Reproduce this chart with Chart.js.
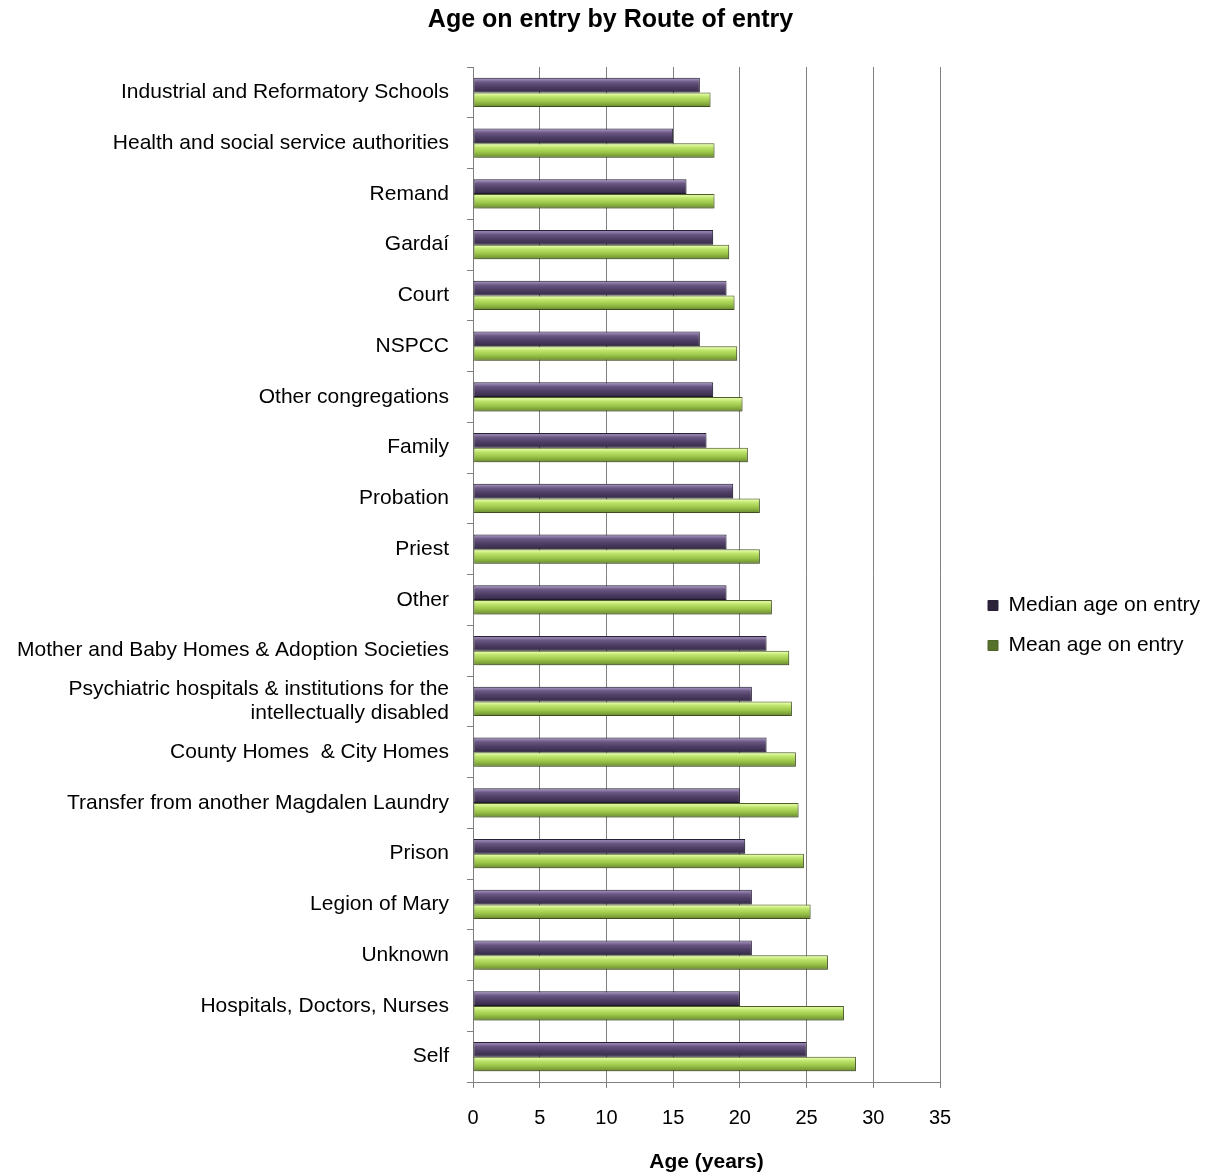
<!DOCTYPE html>
<html>
<head>
<meta charset="utf-8">
<script src="https://cdn.jsdelivr.net/npm/chart.js@4/dist/chart.umd.min.js"></script>
<style>
  html, body { margin: 0; padding: 0; background: #ffffff; }
  #wrap { width: 1221px; height: 1173px; position: relative; }
</style>
</head>
<body>
<div id="wrap"><canvas id="c" width="1221" height="1173"></canvas></div>
<script>
// ---- data ----
const categories = [
  "Industrial and Reformatory Schools",
  "Health and social service authorities",
  "Remand",
  "Gardaí",
  "Court",
  "NSPCC",
  "Other congregations",
  "Family",
  "Probation",
  "Priest",
  "Other",
  "Mother and Baby Homes & Adoption Societies",
  ["Psychiatric hospitals & institutions for the", "intellectually disabled"],
  "County Homes  & City Homes",
  "Transfer from another Magdalen Laundry",
  "Prison",
  "Legion of Mary",
  "Unknown",
  "Hospitals, Doctors, Nurses",
  "Self"
];
const medianAge = [17.0, 15.0, 16.0, 18.0, 19.0, 17.0, 18.0, 17.5, 19.5, 19.0, 19.0, 22.0, 20.9, 22.0, 20.0, 20.4, 20.9, 20.9, 20.0, 25.0];
const meanAge   = [17.8, 18.1, 18.1, 19.2, 19.6, 19.8, 20.2, 20.6, 21.5, 21.5, 22.4, 23.7, 23.9, 24.2, 24.4, 24.8, 25.3, 26.6, 27.8, 28.7];
const seriesNames = ["Median age on entry", "Mean age on entry"];
const xTicksMin = 0, xTicksMax = 35, xTickStep = 5;
const chartTitle = "Age on entry by Route of entry";
const xAxisTitle = "Age (years)";

// ---- styling ----
const CAT_PCT = 0.58;
const FONT = "'Liberation Sans', Arial, sans-serif";
const purpleStops = [[0,'#6b5a85'],[0.12,'#9685b0'],[0.3,'#6a5883'],[0.6,'#4f3f66'],[0.88,'#3d3050'],[1,'#2b2139']];
const greenStops  = [[0,'#a9cc5c'],[0.12,'#e0f8a0'],[0.3,'#bde46a'],[0.6,'#9cc74a'],[0.88,'#789b36'],[1,'#56722a']];

function barGradient(stops, dsIndex, fallback) {
  return (ctx) => {
    const chart = ctx.chart;
    const y = chart.scales && chart.scales.y;
    if (ctx.type !== 'data' || !chart.chartArea || !y) return fallback;
    const center = y.getPixelForValue(ctx.dataIndex);
    const band = y.height / categories.length;
    const barH = band * CAT_PCT / 2;
    const top = center - band * CAT_PCT / 2 + dsIndex * barH;
    const g = chart.ctx.createLinearGradient(0, top, 0, top + barH);
    stops.forEach(([o, c]) => g.addColorStop(o, c));
    return g;
  };
}

const shadowPlugin = {
  id: 'barShadow',
  beforeDatasetDraw(chart) {
    const c = chart.ctx;
    c.save();
    c.shadowColor = 'rgba(0,0,0,0.28)';
    c.shadowBlur = 5;
    c.shadowOffsetX = 2;
    c.shadowOffsetY = 3;
  },
  afterDatasetDraw(chart) { chart.ctx.restore(); }
};

// legend placement: fixed width so the plot ends at x=35 where the reference does,
// then nudge the legend box to the reference position.
const LEGEND_WIDTH = 281, LEGEND_DX = 29, LEGEND_DY = 39;
const legendPlacePlugin = {
  id: 'legendPlace',
  beforeLayout(chart) {
    const lg = chart.legend;
    if (lg && !lg._fixedFit) {
      const orig = lg.fit.bind(lg);
      lg.fit = function () { orig(); this.width = LEGEND_WIDTH; };
      lg._fixedFit = true;
    }
  },
  afterLayout(chart) {
    const lg = chart.legend;
    if (lg) {
      lg.left += LEGEND_DX; lg.right += LEGEND_DX;
      lg.top += LEGEND_DY; lg.bottom += LEGEND_DY;
    }
  }
};

new Chart(document.getElementById('c'), {
  type: 'bar',
  data: {
    labels: categories,
    datasets: [
      {
        label: seriesNames[0],
        data: medianAge,
        backgroundColor: barGradient(purpleStops, 0, '#6f5b8c'),
        borderColor: '#2a203a',
        borderWidth: 1,
        borderSkipped: false,
        categoryPercentage: CAT_PCT,
        barPercentage: 1.0
      },
      {
        label: seriesNames[1],
        data: meanAge,
        backgroundColor: barGradient(greenStops, 1, '#a3cd52'),
        borderColor: '#4f6228',
        borderWidth: 1,
        borderSkipped: false,
        categoryPercentage: CAT_PCT,
        barPercentage: 1.0
      }
    ]
  },
  plugins: [shadowPlugin, legendPlacePlugin],
  options: {
    indexAxis: 'y',
    responsive: false,
    animation: false,
    devicePixelRatio: 1,
    layout: { padding: { left: 0, right: 0, top: 0, bottom: 0 } },
    plugins: {
      title: {
        display: true,
        text: chartTitle,
        color: '#000',
        font: { family: FONT, size: 25, weight: 'bold', lineHeight: 1.2 },
        padding: { top: 5, bottom: 32 }
      },
      legend: {
        position: 'right',
        labels: {
          boxWidth: 10,
          boxHeight: 10,
          padding: 19,
          color: '#000',
          font: { family: FONT, size: 21 }
        }
      },
      tooltip: { enabled: false }
    },
    scales: {
      x: {
        type: 'linear',
        min: xTicksMin,
        max: xTicksMax,
        ticks: {
          stepSize: xTickStep,
          color: '#000',
          padding: 18,
          font: { family: FONT, size: 20, lineHeight: 1.2 }
        },
        grid: {
          color: '#808080',
          lineWidth: 1,
          drawTicks: true,
          tickLength: 6,
          tickColor: '#808080'
        },
        border: { display: true, color: '#808080', width: 1 },
        title: {
          display: true,
          text: xAxisTitle,
          color: '#000',
          font: { family: FONT, size: 21, weight: 'bold', lineHeight: 1 },
          padding: { top: 0, bottom: 0 }
        },
        afterFit(scale) { scale.height = 91; }
      },
      y: {
        type: 'category',
        offset: true,
        ticks: {
          color: '#000',
          padding: 18,
          autoSkip: false,
          font: { family: FONT, size: 21, lineHeight: 1.15 }
        },
        grid: {
          offset: true,
          drawOnChartArea: false,
          drawTicks: true,
          tickLength: 6,
          color: '#808080'
        },
        border: { display: true, color: '#808080', width: 1 },
        afterFit(scale) { scale.width = 473; }
      }
    }
  }
});
</script>
</body>
</html>
